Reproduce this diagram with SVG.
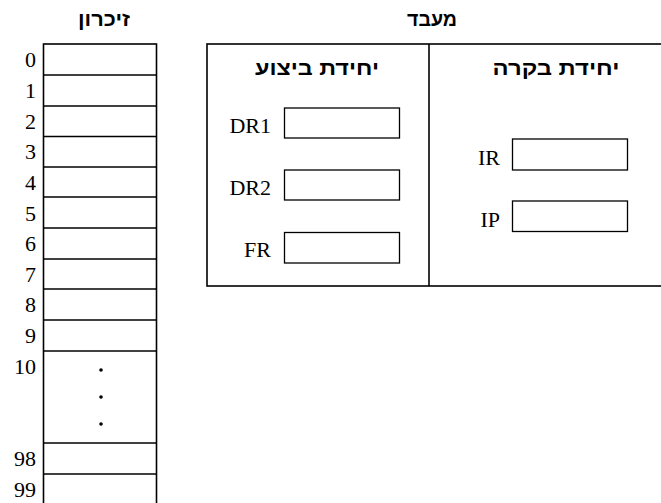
<svg xmlns="http://www.w3.org/2000/svg" width="661" height="503" viewBox="0 0 661 503">
<style>
.box{fill:#fff;stroke:#000;stroke-width:1.6}
.ln{stroke:#000;stroke-width:1.6}
.heb{font-family:"Liberation Sans","DejaVu Sans",sans-serif;font-weight:bold;font-size:20px;text-anchor:middle;direction:rtl;unicode-bidi:embed}
.num{font-family:"Liberation Serif","Times New Roman",serif;font-size:22px;text-anchor:end}
.reg{fill:#fff;stroke:#000;stroke-width:1.3}
</style>
<rect width="661" height="503" fill="#fff"/>
<g id="memory">
<text class="heb" x="104" y="26" textLength="52" lengthAdjust="spacingAndGlyphs">זיכרון</text>
<rect class="box" x="43.5" y="44" width="113" height="470"/>
<line class="ln" x1="43.5" y1="75" x2="156.5" y2="75"/>
<line class="ln" x1="43.5" y1="106" x2="156.5" y2="106"/>
<line class="ln" x1="43.5" y1="136.5" x2="156.5" y2="136.5"/>
<line class="ln" x1="43.5" y1="167" x2="156.5" y2="167"/>
<line class="ln" x1="43.5" y1="197" x2="156.5" y2="197"/>
<line class="ln" x1="43.5" y1="228" x2="156.5" y2="228"/>
<line class="ln" x1="43.5" y1="259" x2="156.5" y2="259"/>
<line class="ln" x1="43.5" y1="289" x2="156.5" y2="289"/>
<line class="ln" x1="43.5" y1="320" x2="156.5" y2="320"/>
<line class="ln" x1="43.5" y1="351" x2="156.5" y2="351"/>
<line class="ln" x1="43.5" y1="443" x2="156.5" y2="443"/>
<line class="ln" x1="43.5" y1="474" x2="156.5" y2="474"/>
<circle cx="101" cy="370" r="1.8"/>
<circle cx="101" cy="397" r="1.8"/>
<circle cx="101" cy="424" r="1.8"/>
<text class="num" x="36" y="67">0</text>
<text class="num" x="36" y="98">1</text>
<text class="num" x="36" y="129">2</text>
<text class="num" x="36" y="159">3</text>
<text class="num" x="36" y="190">4</text>
<text class="num" x="36" y="221">5</text>
<text class="num" x="36" y="251">6</text>
<text class="num" x="36" y="282">7</text>
<text class="num" x="36" y="312">8</text>
<text class="num" x="36" y="343">9</text>
<text class="num" x="36" y="374">10</text>
<text class="num" x="36" y="466">98</text>
<text class="num" x="36" y="497">99</text>
</g>
<g id="processor">
<text class="heb" x="432" y="26" textLength="50" lengthAdjust="spacingAndGlyphs">מעבד</text>
<rect class="box" x="207" y="44" width="460" height="242"/>
<line class="ln" x1="429" y1="44" x2="429" y2="286"/>
</g>
<g id="execution-unit">
<text class="heb" x="317" y="75" textLength="124" lengthAdjust="spacingAndGlyphs">יחידת ביצוע</text>
<text class="num" x="271" y="133">DR1</text>
<rect class="reg" x="284.5" y="108" width="115" height="30"/>
<text class="num" x="271" y="195">DR2</text>
<rect class="reg" x="284.5" y="170" width="115" height="30"/>
<text class="num" x="271" y="257">FR</text>
<rect class="reg" x="284.5" y="232.5" width="115" height="30.5"/>
</g>
<g id="control-unit">
<text class="heb" x="556" y="75" textLength="127" lengthAdjust="spacingAndGlyphs">יחידת בקרה</text>
<text class="num" x="500" y="165">IR</text>
<rect class="reg" x="512.5" y="139" width="115" height="31"/>
<text class="num" x="500" y="227">IP</text>
<rect class="reg" x="512.5" y="201" width="115" height="30.5"/>
</g>
<g id="connectors"></g>
</svg>
